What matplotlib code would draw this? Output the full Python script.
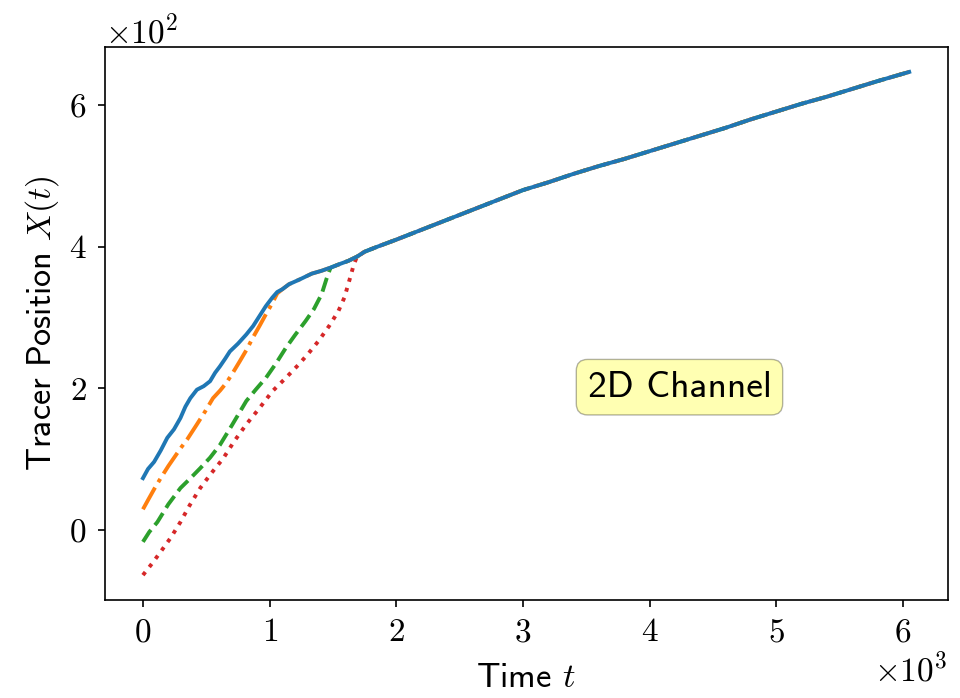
import numpy as np
import matplotlib
matplotlib.use('Agg')
from matplotlib import pyplot as plt

plt.rcParams['font.family'] = 'cmr10'    # 刻度用 Computer Modern
plt.rcParams['mathtext.fontset'] = 'cm'
plt.rcParams['axes.formatter.use_mathtext'] = True

# 蓝线（合并后的公共部分也取自蓝线）
blue_t = [0, 40, 88, 140, 192, 245, 296, 335, 374, 426, 480, 530, 570, 608, 650, 686, 750, 816, 870, 920, 970,
          1021, 1060, 1101, 1153, 1240, 1333, 1410, 1489, 1560, 1621, 1690, 1751, 1850, 2000, 2200, 2400, 2600,
          2800, 3000, 3200, 3400, 3600, 3800, 4000, 4200, 4400, 4600, 4800, 5000, 5200, 5400, 5600, 5800, 6050]
blue_x = [73, 86, 96, 112, 130, 142, 158, 174, 186, 198, 203, 210, 222, 231, 242, 252, 263, 276, 288, 302, 316,
          328, 336, 340, 347, 354, 362, 366, 371, 376, 380, 386, 393, 400, 410, 424, 438, 452, 466, 480, 491,
          503, 514, 524, 535, 546, 557, 568, 580, 591, 602, 612, 623, 634, 647]

# 橙线（点划线）起始段
orange_t = [0, 40, 90, 140, 200, 250, 296, 350, 426, 490, 553, 610, 660, 710, 764, 820, 866, 920, 972, 1020, 1060]
orange_x = [29, 42, 58, 73, 90, 103, 115, 128, 149, 167, 186, 197, 208, 222, 238, 255, 271, 288, 305, 320, 334]

# 绿线（虚线）起始段
green_t = [0, 50, 114, 200, 296, 370, 452, 530, 608, 700, 816, 890, 972, 1050, 1128, 1200, 1284, 1350, 1411,
           1450, 1480]
green_x = [-17, -3, 11, 36, 59, 72, 87, 102, 120, 147, 182, 198, 215, 235, 257, 275, 295, 312, 333, 355, 370]

# 红线（点线）起始段
red_t = [0, 70, 140, 220, 296, 370, 452, 540, 634, 720, 816, 920, 1023, 1130, 1232, 1310, 1387, 1470, 1543,
         1590, 1621, 1645, 1665, 1690]
red_x = [-64, -48, -31, -11, 11, 35, 59, 80, 101, 125, 149, 172, 196, 215, 234, 250, 267, 288, 309, 328, 347,
         362, 375, 386]


def withTail(headT, headX):    # 起始段接上蓝线的公共部分
    bt, bx = np.array(blue_t), np.array(blue_x)
    mask = bt > headT[-1]
    return np.concatenate([headT, bt[mask]]), np.concatenate([headX, bx[mask]])


fig = plt.figure(figsize=(9.6, 6.98), dpi=100)
ax = fig.add_axes([0.109, 0.140, 0.878, 0.793])

lw = 2.8
t, x = withTail(red_t, red_x)
ax.plot(t, x, color='C3', linestyle=':', linewidth=lw)
t, x = withTail(green_t, green_x)
ax.plot(t, x, color='C2', linestyle='--', linewidth=lw)
t, x = withTail(orange_t, orange_x)
ax.plot(t, x, color='C1', linestyle='-.', linewidth=lw)
ax.plot(blue_t, blue_x, color='C0', linestyle='-', linewidth=lw)

ax.ticklabel_format(style='sci', scilimits=(0, 0), useMathText=True)
ax.set_yticks([0, 200, 400, 600])
ax.tick_params(labelsize=24, length=5, width=1.2, pad=8)
ax.xaxis.get_offset_text().set_fontsize(24)
ax.yaxis.get_offset_text().set_fontsize(24)
for s in ax.spines.values():
    s.set_linewidth(1.2)

ax.set_xlabel('Time $t$', fontsize=25, family='cmss10', labelpad=11)
ax.set_ylabel('Tracer Position $X(t)$', fontsize=24.5, family='cmss10', labelpad=6)

ax.text(0.682, 0.385, '2D Channel', transform=ax.transAxes, ha='center', va='center',
        fontsize=27, family='cmss10',
        bbox=dict(boxstyle='round', facecolor='yellow', alpha=0.3))

plt.savefig('out.png', dpi=100)
